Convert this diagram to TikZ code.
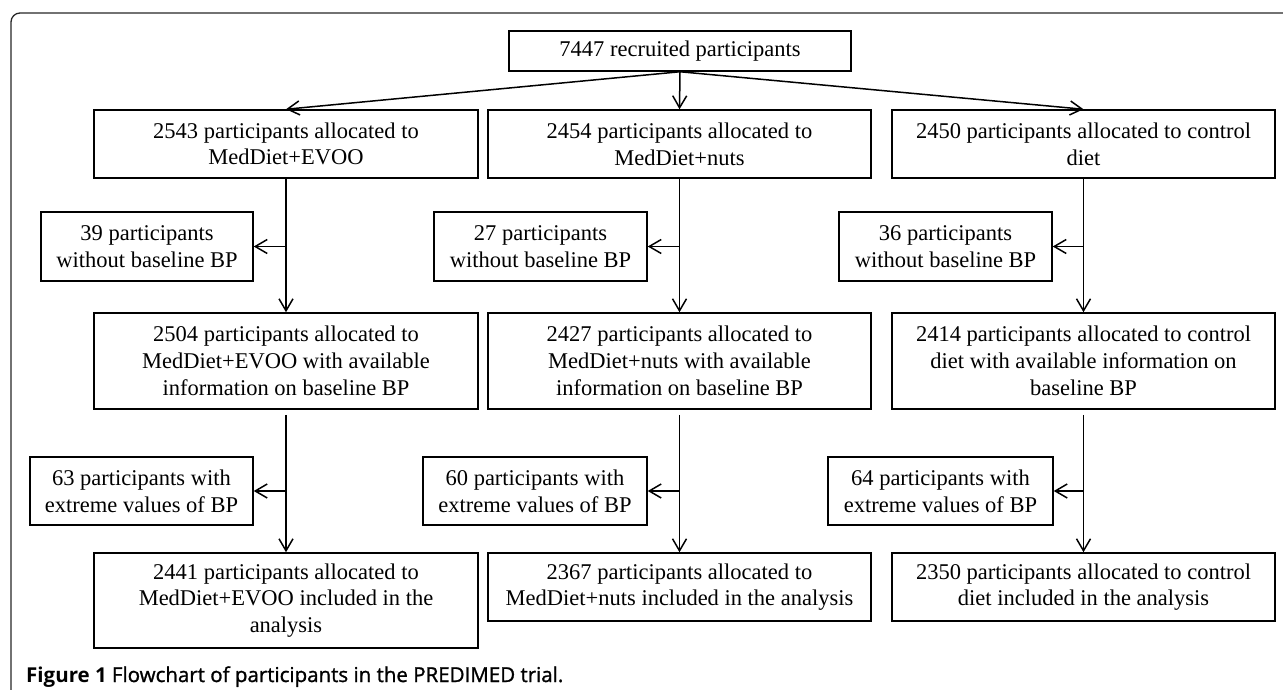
\documentclass[tikz,border=0pt]{standalone}
\usepackage{fontspec}
\setmainfont{Liberation Serif}
\newfontfamily\capfont{Open Sans}
\newfontfamily\capsemi[FakeBold=1.2]{Open Sans}
\usetikzlibrary{arrows.meta}
\begin{document}
\begin{tikzpicture}[x=1pt,y=-1pt,
  box/.style={draw, line width=1.5pt, inner sep=0pt, align=center,
    font=\fontsize{22.5}{26.7}\selectfont},
  arr/.style={line width=1.5pt, -{Straight Barb[length=12pt,width=14pt,line width=1.5pt]}},
  frame/.style={draw=black!85, line width=1.3pt, rounded corners=9pt}]
\clip (0,0) rectangle (1283,690);
\path[frame] (11,720) -- (11,13) -- (1310,13);

% top
\node[box, minimum width=342pt, minimum height=40pt] (top) at (680,51) {7447 recruited participants};

% row 1
\node[box, minimum width=384pt, minimum height=68pt] (m1a) at (286,144) {2543 participants allocated to\\MedDiet+EVOO};
\node[box, minimum width=383pt, minimum height=68pt] (m2a) at (679.5,144) {2454 participants allocated to\\MedDiet+nuts};
\node[box, minimum width=383pt, minimum height=68pt] (m3a) at (1083.5,144) {2450 participants allocated to control\\diet};

% side row A
\node[box, minimum width=212pt, minimum height=69pt] (s1a) at (147,246.5) {39 participants\\without baseline BP};
\node[box, minimum width=213pt, minimum height=69pt] (s2a) at (540.5,246.5) {27 participants\\without baseline BP};
\node[box, minimum width=213pt, minimum height=69pt] (s3a) at (945.5,246.5) {36 participants\\without baseline BP};

% row 2
\node[box, minimum width=384pt, minimum height=96pt] (m1b) at (286,361) {2504 participants allocated to\\MedDiet+EVOO with available\\information on baseline BP};
\node[box, minimum width=383pt, minimum height=96pt] (m2b) at (679.5,361) {2427 participants allocated to\\MedDiet+nuts with available\\information on baseline BP};
\node[box, minimum width=383pt, minimum height=96pt] (m3b) at (1083.5,361) {2414 participants allocated to control\\diet with available information on\\baseline BP};

% side row B
\node[box, minimum width=223pt, minimum height=68pt] (s1b) at (141.5,491) {63 participants with\\extreme values of BP};
\node[box, minimum width=224pt, minimum height=68pt] (s2b) at (535,491) {60 participants with\\extreme values of BP};
\node[box, minimum width=225pt, minimum height=68pt] (s3b) at (940.5,491) {64 participants with\\extreme values of BP};

% row 3
\node[box, minimum width=384pt, minimum height=95pt] (m1c) at (286,600.5) {2441 participants allocated to\\MedDiet+EVOO included in the\\analysis};
\node[box, minimum width=383pt, minimum height=68pt] (m2c) at (679.5,587) {2367 participants allocated to\\MedDiet+nuts included in the analysis};
\node[box, minimum width=383pt, minimum height=68pt] (m3c) at (1083.5,587) {2350 participants allocated to control\\diet included in the analysis};

% caption
\node[anchor=base west, inner sep=0pt, font=\fontsize{20.5}{24}\selectfont] (cap) at (26,682) {{\capfont\bfseries Figure 1} {\capsemi Flowchart of participants in the PREDIMED trial.}};

% connectors from top
\draw[arr] (top.south) -- (m1a.north);
\draw[arr] (top.south) -- (m2a.north);
\draw[arr] (top.south) -- (m3a.north);

% column flows
\foreach \c in {1,2,3}{
  \draw[arr] (m\c a.south) -- (m\c b.north);
  \draw[arr] (m\c a.south |- s\c a.east) -- (s\c a.east);
  \draw[arr, shorten <=5pt] (m\c b.south) -- (m\c b.south |- m\c c.north);
  \draw[arr] (m\c b.south |- s\c b.east) -- (s\c b.east);
}
\end{tikzpicture}
\end{document}
